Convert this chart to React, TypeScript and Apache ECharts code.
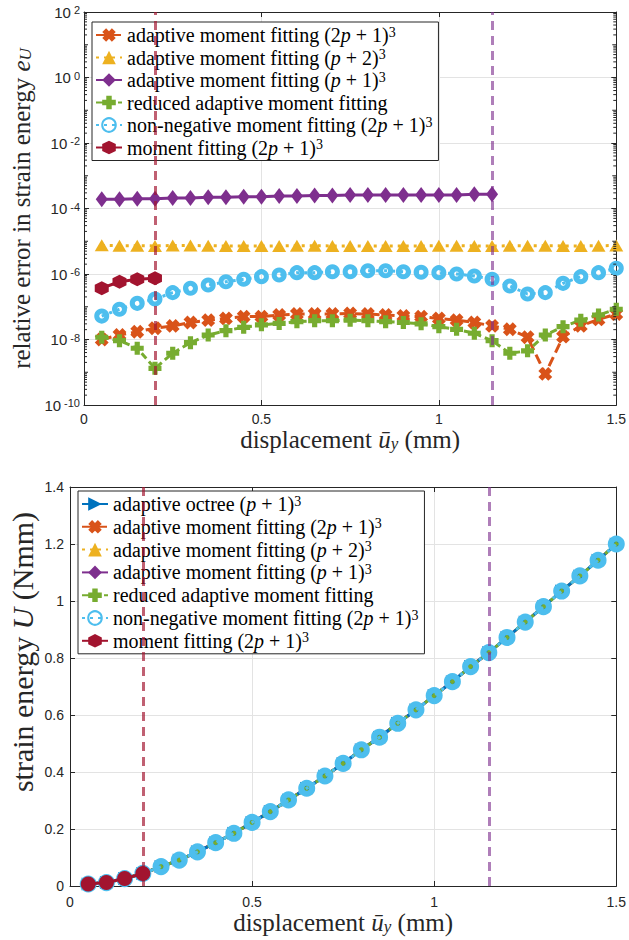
import React, { useEffect, useRef } from "react";
import * as echarts from "echarts";

// ---------- data ----------
const displacement = [0.05, 0.1, 0.15, 0.2, 0.25, 0.3, 0.35, 0.4, 0.45, 0.5, 0.55, 0.6, 0.65, 0.7, 0.75, 0.8, 0.85, 0.9, 0.95, 1.0, 1.05, 1.1, 1.15, 1.2, 1.25, 1.3, 1.35, 1.4, 1.45, 1.5];

const errAdaptive2p1 = [1.0e-8, 1.37e-8, 1.73e-8, 2.2e-8, 2.6e-8, 3.3e-8, 3.9e-8, 4.4e-8, 5.0e-8, 5.0e-8, 5.6e-8, 6.0e-8, 6.0e-8, 6.0e-8, 6.2e-8, 6.0e-8, 5.6e-8, 5.2e-8, 5.0e-8, 4.4e-8, 3.9e-8, 3.3e-8, 2.6e-8, 2.05e-8, 1.17e-8, 8.9e-10, 1.22e-8, 2.6e-8, 4.1e-8, 6.0e-8];
const errAdaptiveP2 = [7.5e-6, 7.3e-6, 7.3e-6, 7.2e-6, 7.4e-6, 7.4e-6, 7.3e-6, 7.2e-6, 7.1e-6, 7.1e-6, 7.2e-6, 7.3e-6, 7.3e-6, 7.2e-6, 7.2e-6, 7.1e-6, 7.2e-6, 7.2e-6, 7.2e-6, 7.3e-6, 7.3e-6, 7.2e-6, 7.1e-6, 7.3e-6, 7.3e-6, 7.3e-6, 7.2e-6, 7.2e-6, 7.3e-6, 7.4e-6];
const errAdaptiveP1 = [1.9e-4, 1.9e-4, 2.0e-4, 2.0e-4, 2.1e-4, 2.1e-4, 2.2e-4, 2.2e-4, 2.3e-4, 2.3e-4, 2.4e-4, 2.4e-4, 2.5e-4, 2.5e-4, 2.6e-4, 2.6e-4, 2.6e-4, 2.6e-4, 2.6e-4, 2.6e-4, 2.6e-4, 2.7e-4, 2.7e-4];
const errReduced = [1.17e-8, 9.2e-9, 5.4e-9, 1.32e-9, 3.8e-9, 8.0e-9, 1.37e-8, 1.86e-8, 2.36e-8, 2.8e-8, 3.1e-8, 3.5e-8, 3.75e-8, 3.75e-8, 3.9e-8, 3.75e-8, 3.5e-8, 3.3e-8, 3.0e-8, 2.46e-8, 2.05e-8, 1.55e-8, 9.2e-9, 3.8e-9, 4.5e-9, 1.37e-8, 2.46e-8, 3.9e-8, 5.6e-8, 8.4e-8];
const errNonNeg = [5.2e-8, 8.4e-8, 1.27e-7, 1.72e-7, 2.7e-7, 3.66e-7, 4.6e-7, 5.8e-7, 6.9e-7, 8.3e-7, 9.3e-7, 1.1e-6, 1.1e-6, 1.17e-6, 1.17e-6, 1.26e-6, 1.26e-6, 1.17e-6, 1.13e-6, 1.1e-6, 1.0e-6, 8.7e-7, 6.9e-7, 4.3e-7, 2.45e-7, 2.7e-7, 5.2e-7, 8.3e-7, 1.1e-6, 1.5e-6];
const errMoment = [3.7e-7, 5.8e-7, 6.9e-7, 7.4e-7];

const strainEnergy = [0.007, 0.012, 0.026, 0.044, 0.068, 0.091, 0.12, 0.152, 0.185, 0.223, 0.261, 0.302, 0.343, 0.386, 0.43, 0.478, 0.522, 0.571, 0.618, 0.668, 0.717, 0.77, 0.819, 0.872, 0.926, 0.98, 1.035, 1.088, 1.143, 1.2];
const momentEnergyCount = 4;
const adaptiveP1Count = 23;

const refDisplacements = [0.2, 1.15];

const errExpMin = -10;
const errExpMax = 2;
const errExpStep = 2;

// ---------- names ----------
const N_OCT = "adaptive octree (p+1)^3";
const N_A21 = "adaptive moment fitting (2p+1)^3";
const N_AP2 = "adaptive moment fitting (p+2)^3";
const N_AP1 = "adaptive moment fitting (p+1)^3";
const N_RED = "reduced adaptive moment fitting";
const N_NN = "non-negative moment fitting (2p+1)^3";
const N_MF = "moment fitting (2p+1)^3";

const richNames: Record<string, string> = {
  [N_OCT]: "{t|adaptive octree (}{i|p}{t| + 1)}{sup|3}",
  [N_A21]: "{t|adaptive moment fitting (2}{i|p}{t| + 1)}{sup|3}",
  [N_AP2]: "{t|adaptive moment fitting (}{i|p}{t| + 2)}{sup|3}",
  [N_AP1]: "{t|adaptive moment fitting (}{i|p}{t| + 1)}{sup|3}",
  [N_RED]: "{t|reduced adaptive moment fitting}",
  [N_NN]: "{t|non-negative moment fitting (2}{i|p}{t| + 1)}{sup|3}",
  [N_MF]: "{t|moment fitting (2}{i|p}{t| + 1)}{sup|3}",
};

// ---------- style ----------
const AX = "#262626";
const GRIDC = "#e3e3e3";
const SANS = "Liberation Sans";
const SERIF = "Liberation Serif";
const C_BLUE = "#0072BD";
const C_ORANGE = "#D95319";
const C_YELLOW = "#EDB120";
const C_PURPLE = "#7E2F8E";
const C_GREEN = "#77AC30";
const C_CYAN = "#4DBEEE";
const C_RED = "#A2142F";
const REF_COLORS = ["rgba(162,20,47,0.68)", "rgba(126,47,142,0.62)"];

const PLUS = "path://M3,0H7V3H10V7H7V10H3V7H0V3H3Z";
const HEX = "path://M5,0L9.33,2.5L9.33,7.5L5,10L0.67,7.5L0.67,2.5Z";

const logPairs = (arr: number[]) => arr.map((v, i) => [displacement[i], Math.log10(v)]);
const pairs = (arr: number[]) => arr.map((v, i) => [displacement[i], v]);

const richFor = (size: number) => ({
  t: { fontFamily: SERIF, fontSize: size, color: AX },
  i: { fontFamily: SERIF, fontStyle: "italic", fontSize: size, color: AX },
  sub: { fontFamily: SERIF, fontStyle: "italic", fontSize: Math.round(size * 0.68), color: AX, lineHeight: 8, verticalAlign: "bottom" },
});

const nameStyle = (size: number) => ({
  fontFamily: SERIF,
  fontSize: size,
  color: AX,
  rich: richFor(size),
});

function xAxis(gridIndex: number, position: "bottom" | "top", main: boolean, margin: number, nameGap: number) {
  return {
    type: "value",
    gridIndex,
    position,
    min: 0,
    max: 1.5,
    interval: 0.5,
    axisLine: { show: true, onZero: false, lineStyle: { color: AX, width: 1 } },
    axisTick: { show: true, inside: true, length: 5, lineStyle: { color: AX } },
    axisLabel: { show: main, color: AX, fontFamily: SANS, fontSize: 14, margin },
    splitLine: { show: main, lineStyle: { color: GRIDC, width: 1 } },
    name: main ? "{t|displacement }{i|ū}{sub|y}{t| (mm)}" : "",
    nameLocation: "middle",
    nameGap,
    nameTextStyle: nameStyle(25),
  };
}

function buildOption() {
  const minorTicks: number[][] = [];
  for (let d = errExpMin; d < errExpMax; d++) {
    for (let k = 1; k <= 9; k++) {
      if (k === 1 && (d - errExpMin) % errExpStep === 0) continue;
      minorTicks.push([0, d + Math.log10(k), k === 1 ? 4 : 3]);
    }
  }

  const legendText = {
    fontFamily: SERIF,
    fontSize: 20,
    lineHeight: 20,
    color: "#000",
    rich: {
      t: { fontFamily: SERIF, fontSize: 20, color: "#000" },
      i: { fontFamily: SERIF, fontStyle: "italic", fontSize: 20, color: "#000" },
      sup: { fontFamily: SERIF, fontSize: 14, lineHeight: 6, verticalAlign: "top", color: "#000" },
    },
  };

  const base = { type: "line", animation: false, emphasis: { disabled: true }, clip: false };

  const topSeries = [
    {
      ...base, name: N_A21, xAxisIndex: 0, yAxisIndex: 0, z: 2,
      data: logPairs(errAdaptive2p1),
      symbol: PLUS, symbolRotate: 45, symbolSize: 14,
      itemStyle: { color: C_ORANGE },
      lineStyle: { color: C_ORANGE, width: 3, type: [10, 5] },
    },
    {
      ...base, name: N_AP2, xAxisIndex: 0, yAxisIndex: 0, z: 2,
      data: logPairs(errAdaptiveP2),
      symbol: "triangle", symbolSize: [14, 12],
      itemStyle: { color: C_YELLOW },
      lineStyle: { color: C_YELLOW, width: 3, type: [3, 5] },
    },
    {
      ...base, name: N_AP1, xAxisIndex: 0, yAxisIndex: 0, z: 2,
      data: logPairs(errAdaptiveP1),
      symbol: "diamond", symbolSize: [12, 16],
      itemStyle: { color: C_PURPLE },
      lineStyle: { color: C_PURPLE, width: 3 },
    },
    {
      ...base, name: N_RED, xAxisIndex: 0, yAxisIndex: 0, z: 2,
      data: logPairs(errReduced),
      symbol: PLUS, symbolSize: 13,
      itemStyle: { color: C_GREEN },
      lineStyle: { color: C_GREEN, width: 3, type: [7, 4] },
    },
    {
      ...base, name: N_NN, xAxisIndex: 0, yAxisIndex: 0, z: 2,
      data: logPairs(errNonNeg),
      symbol: "circle", symbolSize: 10,
      itemStyle: { color: "rgba(255,255,255,0)", borderColor: C_CYAN, borderWidth: 5 },
      lineStyle: { color: C_CYAN, width: 3, type: [3, 5] },
    },
    {
      ...base, name: N_MF, xAxisIndex: 0, yAxisIndex: 0, z: 2,
      data: logPairs(errMoment),
      symbol: HEX, symbolSize: 14,
      itemStyle: { color: C_RED },
      lineStyle: { color: C_RED, width: 3 },
    },
  ];

  const bottomSeries = [
    {
      ...base, name: N_A21, xAxisIndex: 2, yAxisIndex: 2, z: 1,
      data: pairs(strainEnergy),
      symbol: PLUS, symbolRotate: 45, symbolSize: 12,
      itemStyle: { color: C_ORANGE },
      lineStyle: { color: C_ORANGE, width: 3, type: [10, 5] },
    },
    {
      ...base, name: N_AP2, xAxisIndex: 2, yAxisIndex: 2, z: 1,
      data: pairs(strainEnergy),
      symbol: "triangle", symbolSize: 12,
      itemStyle: { color: C_YELLOW },
      lineStyle: { color: C_YELLOW, width: 3, type: [3, 5] },
    },
    {
      ...base, name: N_AP1, xAxisIndex: 2, yAxisIndex: 2, z: 1,
      data: pairs(strainEnergy.slice(0, adaptiveP1Count)),
      symbol: "diamond", symbolSize: [11, 14],
      itemStyle: { color: C_PURPLE },
      lineStyle: { color: C_PURPLE, width: 3 },
    },
    {
      ...base, name: N_OCT, xAxisIndex: 2, yAxisIndex: 2, z: 2,
      data: pairs(strainEnergy),
      symbol: "triangle", symbolRotate: -90, symbolSize: 13,
      itemStyle: { color: C_BLUE },
      lineStyle: { color: C_BLUE, width: 3 },
    },
    {
      ...base, name: N_RED, xAxisIndex: 2, yAxisIndex: 2, z: 3,
      data: pairs(strainEnergy),
      symbol: PLUS, symbolSize: 6,
      itemStyle: { color: C_GREEN },
      lineStyle: { color: C_GREEN, width: 3, type: [5, 4] },
    },
    {
      ...base, name: N_NN, xAxisIndex: 2, yAxisIndex: 2, z: 4,
      data: pairs(strainEnergy),
      symbol: "circle", symbolSize: 11,
      itemStyle: { color: "rgba(255,255,255,0)", borderColor: C_CYAN, borderWidth: 6 },
      lineStyle: { color: C_CYAN, width: 3, type: [3, 5] },
    },
    {
      ...base, name: N_MF, xAxisIndex: 2, yAxisIndex: 2, z: 5,
      data: pairs(strainEnergy.slice(0, momentEnergyCount)),
      symbol: "circle", symbolSize: 15,
      itemStyle: { color: C_RED },
      lineStyle: { color: C_RED, width: 3 },
    },
  ];

  const refSeries = (xi: number, yi: number) => ({
    type: "line", xAxisIndex: xi, yAxisIndex: yi, data: [], z: 6, silent: true, animation: false,
    markLine: {
      silent: true, symbol: "none", animation: false, label: { show: false },
      data: refDisplacements.map((x, i) => ({ xAxis: x, lineStyle: { color: REF_COLORS[i], width: 3, type: [9, 6] } })),
    },
  });

  const tickSeries = {
    type: "custom", xAxisIndex: 0, yAxisIndex: 0, silent: true, animation: false, z: 3,
    data: minorTicks,
    renderItem: (_p: any, api: any) => {
      const e = api.value(1);
      const len = api.value(2);
      const l = api.coord([0, e]);
      const r = api.coord([1.5, e]);
      return {
        type: "group",
        children: [
          { type: "line", shape: { x1: l[0], y1: l[1], x2: l[0] + len, y2: l[1] }, style: { stroke: AX, lineWidth: 1 } },
          { type: "line", shape: { x1: r[0] - len, y1: r[1], x2: r[0], y2: r[1] }, style: { stroke: AX, lineWidth: 1 } },
        ],
      };
    },
  };

  const yTop = (position: "left" | "right", main: boolean) => ({
    type: "value", gridIndex: 0, position,
    min: errExpMin, max: errExpMax, interval: errExpStep,
    axisLine: { show: true, onZero: false, lineStyle: { color: AX, width: 1 } },
    axisTick: { show: true, inside: true, length: 5, lineStyle: { color: AX } },
    axisLabel: {
      show: main, color: AX, fontFamily: SANS, fontSize: 15, margin: 4,
      formatter: (v: number) => `{b|10}{sup|${Math.round(v)}}`,
      rich: {
        b: { fontFamily: SANS, fontSize: 15, color: AX },
        sup: { fontFamily: SANS, fontSize: 11, lineHeight: 6, verticalAlign: "top", color: AX, padding: [0, 0, 0, 3] },
      },
    },
    splitLine: { show: main, lineStyle: { color: GRIDC, width: 1 } },
    name: main ? "{t|relative error in strain energy }{i|e}{sub|U}" : "",
    nameLocation: "middle", nameGap: 50,
    nameTextStyle: nameStyle(25),
  });

  const yBottom = (position: "left" | "right", main: boolean) => ({
    type: "value", gridIndex: 1, position,
    min: 0, max: 1.4, interval: 0.2,
    axisLine: { show: true, onZero: false, lineStyle: { color: AX, width: 1 } },
    axisTick: { show: true, inside: true, length: 5, lineStyle: { color: AX } },
    axisLabel: { show: main, color: AX, fontFamily: SANS, fontSize: 14, margin: 6 },
    splitLine: { show: main, lineStyle: { color: GRIDC, width: 1 } },
  });

  const legendBase = {
    orient: "vertical", itemWidth: 26, itemHeight: 17,
    backgroundColor: "#fff", borderColor: AX, borderWidth: 1, borderRadius: 0,
    selectedMode: false, textStyle: legendText,
    formatter: (n: string) => richNames[n] || n,
  };

  return {
    animation: false,
    backgroundColor: "#fff",
    textStyle: { fontFamily: SERIF },
    grid: [
      { left: 84, top: 12, width: 536, height: 393 },
      { left: 70, top: 487, width: 550, height: 399 },
    ],
    xAxis: [
      xAxis(0, "bottom", true, 7, 22),
      xAxis(0, "top", false, 7, 0),
      xAxis(1, "bottom", true, 9, 20),
      xAxis(1, "top", false, 7, 0),
    ],
    yAxis: [yTop("left", true), yTop("right", false), yBottom("left", true), yBottom("right", false)],
    legend: [
      { ...legendBase, data: [N_A21, N_AP2, N_AP1, N_RED, N_NN, N_MF], left: 92, top: 22, itemGap: 2.5, padding: [3, 6, 3, 3] },
      { ...legendBase, data: [N_OCT, N_A21, N_AP2, N_AP1, N_RED, N_NN, N_MF], left: 78, top: 491, itemGap: 2.8, padding: [3, 6, 3, 3] },
    ],
    graphic: [
      {
        type: "text",
        x: 22,
        y: 652,
        rotation: Math.PI / 2,
        silent: true,
        style: {
          text: "{t|strain energy }{i|U}{t| (Nmm)}",
          rich: richFor(30),
          align: "center",
          verticalAlign: "middle",
          fill: AX,
        },
      },
    ],
    series: [tickSeries, ...topSeries, ...bottomSeries, refSeries(0, 0), refSeries(2, 2)],
  };
}

export default function App() {
  const ref = useRef<HTMLDivElement>(null);
  useEffect(() => {
    const chart = echarts.init(ref.current!, undefined, { renderer: "svg" });
    chart.setOption(buildOption() as any);
    return () => chart.dispose();
  }, []);
  return (
    <div
      ref={ref}
      style={{ position: "absolute", left: 0, top: 0, width: 629, height: 940, background: "#fff" }}
    />
  );
}
